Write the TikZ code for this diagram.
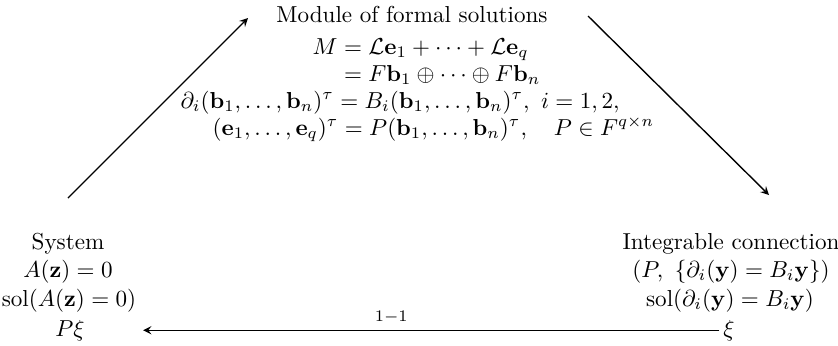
\documentclass[tikz,border=0pt]{standalone}
\usepackage{amsmath,amssymb}
\begin{document}
\begin{tikzpicture}[x=0.433pt,y=-0.433pt,line cap=butt,line join=miter,>=stealth,semithick]
\tikzset{txt/.style={anchor=base,inner sep=0pt},
eqn/.style={anchor=base west,inner sep=0pt}
}
\useasboundingbox (0,0) rectangle (838,345);
% module of formal solutions
\node[txt] (mod) at (412,22) {Module of formal solutions};
\node[eqn] (eqa) at (312,54) {$M=\mathcal{L}\mathbf{e}_1+\cdots+\mathcal{L}\mathbf{e}_q$};
\node[eqn] (eqb) at (312,81) {$\hphantom{M}=F\mathbf{b}_1\oplus\cdots\oplus F\mathbf{b}_n$};
\node[eqn] (eqc) at (180,108) {$\partial_i(\mathbf{b}_1,\ldots,\mathbf{b}_n)^\tau=B_i(\mathbf{b}_1,\ldots,\mathbf{b}_n)^\tau,\ i=1,2,$};
\node[eqn] (eqd) at (212,135) {$(\mathbf{e}_1,\ldots,\mathbf{e}_q)^\tau=P(\mathbf{b}_1,\ldots,\mathbf{b}_n)^\tau,\quad P\in F^{q\times n}$};
% system
\node[txt] (sys) at (68,249) {System};
\node[txt] (sysa) at (68,277) {$A(\mathbf{z})=0$};
\node[txt] (syssol) at (69,306) {$\mathrm{sol}(A(\mathbf{z})=0)$};
\node[txt] (pxi) at (70,336) {$P\xi$};
% integrable connection
\node[txt] (con) at (731,249) {Integrable connection};
\node[txt] (cona) at (731,277) {$(P,\ \{\partial_i(\mathbf{y})=B_i\mathbf{y}\})$};
\node[txt] (consol) at (730,306) {$\mathrm{sol}(\partial_i(\mathbf{y})=B_i\mathbf{y})$};
\node[txt] (xi) at (729,336) {$\xi$};
% arrows
\coordinate (sw) at (68,198);
\coordinate (nw) at (248,18);
\coordinate (ne) at (588,16);
\coordinate (se) at (769,195);
\draw[->] (sw)--(nw);
\draw[->] (ne)--(se);
\draw[->,shorten <=1.5pt,shorten >=25pt] (xi.west)--(pxi.east)
node[pos=0.52,above=-0.5pt]{$\scriptstyle 1-1$};
\end{tikzpicture}
\end{document}
